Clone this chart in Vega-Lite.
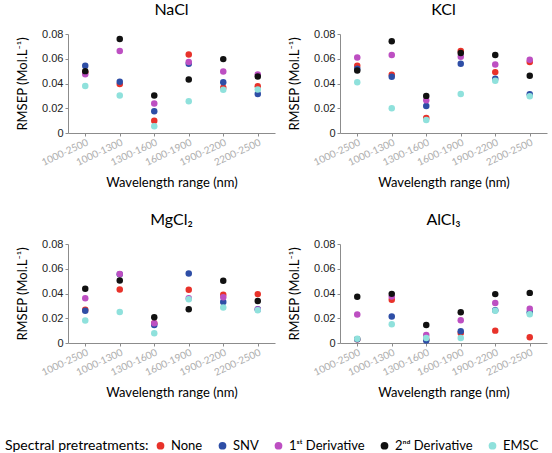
{
  "$schema": "https://vega.github.io/schema/vega-lite/v6.json",
  "padding": {"left": 5, "top": 2, "right": 4, "bottom": 2},
  "datasets": {
    "d": [
      {"salt": "NaCl", "range": "1000-2500", "method": "None", "rmsep": 0.049},
      {"salt": "NaCl", "range": "1000-2500", "method": "SNV", "rmsep": 0.0543},
      {"salt": "NaCl", "range": "1000-2500", "method": "1st Derivative", "rmsep": 0.0475},
      {"salt": "NaCl", "range": "1000-2500", "method": "2nd Derivative", "rmsep": 0.050},
      {"salt": "NaCl", "range": "1000-2500", "method": "EMSC", "rmsep": 0.038},
      {"salt": "NaCl", "range": "1000-1300", "method": "None", "rmsep": 0.0395},
      {"salt": "NaCl", "range": "1000-1300", "method": "SNV", "rmsep": 0.0414},
      {"salt": "NaCl", "range": "1000-1300", "method": "1st Derivative", "rmsep": 0.0662},
      {"salt": "NaCl", "range": "1000-1300", "method": "2nd Derivative", "rmsep": 0.0759},
      {"salt": "NaCl", "range": "1000-1300", "method": "EMSC", "rmsep": 0.0303},
      {"salt": "NaCl", "range": "1300-1600", "method": "None", "rmsep": 0.010},
      {"salt": "NaCl", "range": "1300-1600", "method": "SNV", "rmsep": 0.0176},
      {"salt": "NaCl", "range": "1300-1600", "method": "1st Derivative", "rmsep": 0.0238},
      {"salt": "NaCl", "range": "1300-1600", "method": "2nd Derivative", "rmsep": 0.0303},
      {"salt": "NaCl", "range": "1300-1600", "method": "EMSC", "rmsep": 0.0054},
      {"salt": "NaCl", "range": "1600-1900", "method": "None", "rmsep": 0.0635},
      {"salt": "NaCl", "range": "1600-1900", "method": "SNV", "rmsep": 0.056},
      {"salt": "NaCl", "range": "1600-1900", "method": "1st Derivative", "rmsep": 0.0573},
      {"salt": "NaCl", "range": "1600-1900", "method": "2nd Derivative", "rmsep": 0.0432},
      {"salt": "NaCl", "range": "1600-1900", "method": "EMSC", "rmsep": 0.0257},
      {"salt": "NaCl", "range": "1900-2200", "method": "None", "rmsep": 0.0365},
      {"salt": "NaCl", "range": "1900-2200", "method": "SNV", "rmsep": 0.0411},
      {"salt": "NaCl", "range": "1900-2200", "method": "1st Derivative", "rmsep": 0.0497},
      {"salt": "NaCl", "range": "1900-2200", "method": "2nd Derivative", "rmsep": 0.0597},
      {"salt": "NaCl", "range": "1900-2200", "method": "EMSC", "rmsep": 0.0349},
      {"salt": "NaCl", "range": "2200-2500", "method": "None", "rmsep": 0.0378},
      {"salt": "NaCl", "range": "2200-2500", "method": "SNV", "rmsep": 0.0316},
      {"salt": "NaCl", "range": "2200-2500", "method": "1st Derivative", "rmsep": 0.0473},
      {"salt": "NaCl", "range": "2200-2500", "method": "2nd Derivative", "rmsep": 0.0457},
      {"salt": "NaCl", "range": "2200-2500", "method": "EMSC", "rmsep": 0.0351},

      {"salt": "KCl", "range": "1000-2500", "method": "None", "rmsep": 0.0543},
      {"salt": "KCl", "range": "1000-2500", "method": "SNV", "rmsep": 0.052},
      {"salt": "KCl", "range": "1000-2500", "method": "1st Derivative", "rmsep": 0.0611},
      {"salt": "KCl", "range": "1000-2500", "method": "2nd Derivative", "rmsep": 0.0505},
      {"salt": "KCl", "range": "1000-2500", "method": "EMSC", "rmsep": 0.0411},
      {"salt": "KCl", "range": "1000-1300", "method": "None", "rmsep": 0.047},
      {"salt": "KCl", "range": "1000-1300", "method": "SNV", "rmsep": 0.0454},
      {"salt": "KCl", "range": "1000-1300", "method": "1st Derivative", "rmsep": 0.063},
      {"salt": "KCl", "range": "1000-1300", "method": "2nd Derivative", "rmsep": 0.0741},
      {"salt": "KCl", "range": "1000-1300", "method": "EMSC", "rmsep": 0.020},
      {"salt": "KCl", "range": "1300-1600", "method": "None", "rmsep": 0.0122},
      {"salt": "KCl", "range": "1300-1600", "method": "SNV", "rmsep": 0.0219},
      {"salt": "KCl", "range": "1300-1600", "method": "1st Derivative", "rmsep": 0.0265},
      {"salt": "KCl", "range": "1300-1600", "method": "2nd Derivative", "rmsep": 0.030},
      {"salt": "KCl", "range": "1300-1600", "method": "EMSC", "rmsep": 0.0105},
      {"salt": "KCl", "range": "1600-1900", "method": "None", "rmsep": 0.0662},
      {"salt": "KCl", "range": "1600-1900", "method": "SNV", "rmsep": 0.056},
      {"salt": "KCl", "range": "1600-1900", "method": "1st Derivative", "rmsep": 0.0616},
      {"salt": "KCl", "range": "1600-1900", "method": "2nd Derivative", "rmsep": 0.0646},
      {"salt": "KCl", "range": "1600-1900", "method": "EMSC", "rmsep": 0.0316},
      {"salt": "KCl", "range": "1900-2200", "method": "None", "rmsep": 0.0492},
      {"salt": "KCl", "range": "1900-2200", "method": "SNV", "rmsep": 0.0438},
      {"salt": "KCl", "range": "1900-2200", "method": "1st Derivative", "rmsep": 0.0554},
      {"salt": "KCl", "range": "1900-2200", "method": "2nd Derivative", "rmsep": 0.063},
      {"salt": "KCl", "range": "1900-2200", "method": "EMSC", "rmsep": 0.0422},
      {"salt": "KCl", "range": "2200-2500", "method": "None", "rmsep": 0.0573},
      {"salt": "KCl", "range": "2200-2500", "method": "SNV", "rmsep": 0.0314},
      {"salt": "KCl", "range": "2200-2500", "method": "1st Derivative", "rmsep": 0.0592},
      {"salt": "KCl", "range": "2200-2500", "method": "2nd Derivative", "rmsep": 0.0462},
      {"salt": "KCl", "range": "2200-2500", "method": "EMSC", "rmsep": 0.0297},

      {"salt": "MgCl2", "range": "1000-2500", "method": "None", "rmsep": 0.0268},
      {"salt": "MgCl2", "range": "1000-2500", "method": "SNV", "rmsep": 0.026},
      {"salt": "MgCl2", "range": "1000-2500", "method": "1st Derivative", "rmsep": 0.0362},
      {"salt": "MgCl2", "range": "1000-2500", "method": "2nd Derivative", "rmsep": 0.0438},
      {"salt": "MgCl2", "range": "1000-2500", "method": "EMSC", "rmsep": 0.0181},
      {"salt": "MgCl2", "range": "1000-1300", "method": "None", "rmsep": 0.0432},
      {"salt": "MgCl2", "range": "1000-1300", "method": "SNV", "rmsep": 0.0555},
      {"salt": "MgCl2", "range": "1000-1300", "method": "1st Derivative", "rmsep": 0.0557},
      {"salt": "MgCl2", "range": "1000-1300", "method": "2nd Derivative", "rmsep": 0.0505},
      {"salt": "MgCl2", "range": "1000-1300", "method": "EMSC", "rmsep": 0.0251},
      {"salt": "MgCl2", "range": "1300-1600", "method": "None", "rmsep": 0.016},
      {"salt": "MgCl2", "range": "1300-1600", "method": "SNV", "rmsep": 0.0146},
      {"salt": "MgCl2", "range": "1300-1600", "method": "1st Derivative", "rmsep": 0.016},
      {"salt": "MgCl2", "range": "1300-1600", "method": "2nd Derivative", "rmsep": 0.0208},
      {"salt": "MgCl2", "range": "1300-1600", "method": "EMSC", "rmsep": 0.0078},
      {"salt": "MgCl2", "range": "1600-1900", "method": "None", "rmsep": 0.043},
      {"salt": "MgCl2", "range": "1600-1900", "method": "SNV", "rmsep": 0.0562},
      {"salt": "MgCl2", "range": "1600-1900", "method": "1st Derivative", "rmsep": 0.0362},
      {"salt": "MgCl2", "range": "1600-1900", "method": "2nd Derivative", "rmsep": 0.0273},
      {"salt": "MgCl2", "range": "1600-1900", "method": "EMSC", "rmsep": 0.0354},
      {"salt": "MgCl2", "range": "1900-2200", "method": "None", "rmsep": 0.0389},
      {"salt": "MgCl2", "range": "1900-2200", "method": "SNV", "rmsep": 0.0332},
      {"salt": "MgCl2", "range": "1900-2200", "method": "1st Derivative", "rmsep": 0.037},
      {"salt": "MgCl2", "range": "1900-2200", "method": "2nd Derivative", "rmsep": 0.0503},
      {"salt": "MgCl2", "range": "1900-2200", "method": "EMSC", "rmsep": 0.0286},
      {"salt": "MgCl2", "range": "2200-2500", "method": "None", "rmsep": 0.0395},
      {"salt": "MgCl2", "range": "2200-2500", "method": "SNV", "rmsep": 0.0273},
      {"salt": "MgCl2", "range": "2200-2500", "method": "1st Derivative", "rmsep": 0.027},
      {"salt": "MgCl2", "range": "2200-2500", "method": "2nd Derivative", "rmsep": 0.034},
      {"salt": "MgCl2", "range": "2200-2500", "method": "EMSC", "rmsep": 0.0265},

      {"salt": "AlCl3", "range": "1000-2500", "method": "None", "rmsep": 0.003},
      {"salt": "AlCl3", "range": "1000-2500", "method": "SNV", "rmsep": 0.003},
      {"salt": "AlCl3", "range": "1000-2500", "method": "1st Derivative", "rmsep": 0.023},
      {"salt": "AlCl3", "range": "1000-2500", "method": "2nd Derivative", "rmsep": 0.0373},
      {"salt": "AlCl3", "range": "1000-2500", "method": "EMSC", "rmsep": 0.0035},
      {"salt": "AlCl3", "range": "1000-1300", "method": "None", "rmsep": 0.0349},
      {"salt": "AlCl3", "range": "1000-1300", "method": "SNV", "rmsep": 0.0214},
      {"salt": "AlCl3", "range": "1000-1300", "method": "1st Derivative", "rmsep": 0.0375},
      {"salt": "AlCl3", "range": "1000-1300", "method": "2nd Derivative", "rmsep": 0.0397},
      {"salt": "AlCl3", "range": "1000-1300", "method": "EMSC", "rmsep": 0.0151},
      {"salt": "AlCl3", "range": "1300-1600", "method": "None", "rmsep": 0.003},
      {"salt": "AlCl3", "range": "1300-1600", "method": "SNV", "rmsep": 0.002},
      {"salt": "AlCl3", "range": "1300-1600", "method": "1st Derivative", "rmsep": 0.0065},
      {"salt": "AlCl3", "range": "1300-1600", "method": "2nd Derivative", "rmsep": 0.0146},
      {"salt": "AlCl3", "range": "1300-1600", "method": "EMSC", "rmsep": 0.004},
      {"salt": "AlCl3", "range": "1600-1900", "method": "None", "rmsep": 0.0081},
      {"salt": "AlCl3", "range": "1600-1900", "method": "SNV", "rmsep": 0.0095},
      {"salt": "AlCl3", "range": "1600-1900", "method": "1st Derivative", "rmsep": 0.0184},
      {"salt": "AlCl3", "range": "1600-1900", "method": "2nd Derivative", "rmsep": 0.0249},
      {"salt": "AlCl3", "range": "1600-1900", "method": "EMSC", "rmsep": 0.004},
      {"salt": "AlCl3", "range": "1900-2200", "method": "None", "rmsep": 0.010},
      {"salt": "AlCl3", "range": "1900-2200", "method": "SNV", "rmsep": 0.0265},
      {"salt": "AlCl3", "range": "1900-2200", "method": "1st Derivative", "rmsep": 0.0324},
      {"salt": "AlCl3", "range": "1900-2200", "method": "2nd Derivative", "rmsep": 0.0395},
      {"salt": "AlCl3", "range": "1900-2200", "method": "EMSC", "rmsep": 0.026},
      {"salt": "AlCl3", "range": "2200-2500", "method": "None", "rmsep": 0.0046},
      {"salt": "AlCl3", "range": "2200-2500", "method": "SNV", "rmsep": 0.0249},
      {"salt": "AlCl3", "range": "2200-2500", "method": "1st Derivative", "rmsep": 0.0276},
      {"salt": "AlCl3", "range": "2200-2500", "method": "2nd Derivative", "rmsep": 0.0405},
      {"salt": "AlCl3", "range": "2200-2500", "method": "EMSC", "rmsep": 0.0232}
    ]
  },
  "data": {"name": "d"},
  "spacing": 22,
  "vconcat": [
    {
      "spacing": 13,
      "hconcat": [
        {
          "title": "NaCl",
          "width": 207, "height": 99,
          "transform": [{"filter": "datum.salt === 'NaCl'"}],
          "mark": {"type": "point", "filled": true, "size": 42, "opacity": 1},
          "encoding": {
            "x": {"field": "range", "type": "nominal", "scale": {"type": "point", "padding": 0.5, "domain": ["1000-2500", "1000-1300", "1300-1600", "1600-1900", "1900-2200", "2200-2500"]}, "axis": {"title": "Wavelength range (nm)"}},
            "y": {"field": "rmsep", "type": "quantitative", "scale": {"domain": [0, 0.08]}, "axis": {"values": [0, 0.02, 0.04, 0.06, 0.08], "format": "~g", "title": "RMSEP (Mol.L⁻¹)"}},
            "color": {"field": "method", "type": "nominal", "scale": {"domain": ["None", "SNV", "1st Derivative", "2nd Derivative", "EMSC"], "range": ["#e8322a", "#2e4ea6", "#bd4fc2", "#111111", "#8fe1dc"]},
              "legend": {"title": "Spectral pretreatments:", "orient": "none", "legendX": -63, "legendY": 405, "direction": "horizontal", "titleOrient": "left", "labelExpr": "datum.label === '1st Derivative' ? '1ˢᵗ Derivative' : datum.label === '2nd Derivative' ? '2ⁿᵈ Derivative' : datum.label"}}
          }
        },
        {
          "title": "KCl",
          "width": 207, "height": 99,
          "transform": [{"filter": "datum.salt === 'KCl'"}],
          "mark": {"type": "point", "filled": true, "size": 42, "opacity": 1},
          "encoding": {
            "x": {"field": "range", "type": "nominal", "scale": {"type": "point", "padding": 0.5, "domain": ["1000-2500", "1000-1300", "1300-1600", "1600-1900", "1900-2200", "2200-2500"]}, "axis": {"title": "Wavelength range (nm)"}},
            "y": {"field": "rmsep", "type": "quantitative", "scale": {"domain": [0, 0.08]}, "axis": {"values": [0, 0.02, 0.04, 0.06, 0.08], "format": "~g", "title": "RMSEP (Mol.L⁻¹)"}},
            "color": {"field": "method", "type": "nominal", "scale": {"domain": ["None", "SNV", "1st Derivative", "2nd Derivative", "EMSC"], "range": ["#e8322a", "#2e4ea6", "#bd4fc2", "#111111", "#8fe1dc"]},
              "legend": {"title": "Spectral pretreatments:", "orient": "none", "legendX": -63, "legendY": 405, "direction": "horizontal", "titleOrient": "left", "labelExpr": "datum.label === '1st Derivative' ? '1ˢᵗ Derivative' : datum.label === '2nd Derivative' ? '2ⁿᵈ Derivative' : datum.label"}}
          }
        }
      ]
    },
    {
      "spacing": 13,
      "hconcat": [
        {
          "title": "MgCl₂",
          "width": 207, "height": 99,
          "transform": [{"filter": "datum.salt === 'MgCl2'"}],
          "mark": {"type": "point", "filled": true, "size": 42, "opacity": 1},
          "encoding": {
            "x": {"field": "range", "type": "nominal", "scale": {"type": "point", "padding": 0.5, "domain": ["1000-2500", "1000-1300", "1300-1600", "1600-1900", "1900-2200", "2200-2500"]}, "axis": {"title": "Wavelength range (nm)"}},
            "y": {"field": "rmsep", "type": "quantitative", "scale": {"domain": [0, 0.08]}, "axis": {"values": [0, 0.02, 0.04, 0.06, 0.08], "format": "~g", "title": "RMSEP (Mol.L⁻¹)"}},
            "color": {"field": "method", "type": "nominal", "scale": {"domain": ["None", "SNV", "1st Derivative", "2nd Derivative", "EMSC"], "range": ["#e8322a", "#2e4ea6", "#bd4fc2", "#111111", "#8fe1dc"]},
              "legend": {"title": "Spectral pretreatments:", "orient": "none", "legendX": -63, "legendY": 405, "direction": "horizontal", "titleOrient": "left", "labelExpr": "datum.label === '1st Derivative' ? '1ˢᵗ Derivative' : datum.label === '2nd Derivative' ? '2ⁿᵈ Derivative' : datum.label"}}
          }
        },
        {
          "title": "AlCl₃",
          "width": 207, "height": 99,
          "transform": [{"filter": "datum.salt === 'AlCl3'"}],
          "mark": {"type": "point", "filled": true, "size": 42, "opacity": 1},
          "encoding": {
            "x": {"field": "range", "type": "nominal", "scale": {"type": "point", "padding": 0.5, "domain": ["1000-2500", "1000-1300", "1300-1600", "1600-1900", "1900-2200", "2200-2500"]}, "axis": {"title": "Wavelength range (nm)"}},
            "y": {"field": "rmsep", "type": "quantitative", "scale": {"domain": [0, 0.08]}, "axis": {"values": [0, 0.02, 0.04, 0.06, 0.08], "format": "~g", "title": "RMSEP (Mol.L⁻¹)"}},
            "color": {"field": "method", "type": "nominal", "scale": {"domain": ["None", "SNV", "1st Derivative", "2nd Derivative", "EMSC"], "range": ["#e8322a", "#2e4ea6", "#bd4fc2", "#111111", "#8fe1dc"]},
              "legend": {"title": "Spectral pretreatments:", "orient": "none", "legendX": -63, "legendY": 405, "direction": "horizontal", "titleOrient": "left", "labelExpr": "datum.label === '1st Derivative' ? '1ˢᵗ Derivative' : datum.label === '2nd Derivative' ? '2ⁿᵈ Derivative' : datum.label"}}
          }
        }
      ]
    }
  ],
  "resolve": {"scale": {"x": "independent", "y": "independent"}},
  "config": {
    "font": "Lato",
    "view": {"stroke": null},
    "title": {"fontSize": 16, "fontWeight": "normal", "color": "#000000", "font": "Lato", "offset": 10},
    "axis": {
      "grid": false,
      "domainColor": "#8c8c8c",
      "tickColor": "#8c8c8c",
      "tickSize": 3,
      "titleFontWeight": "normal",
      "titleColor": "#000000",
      "titleFontSize": 13,
      "titleFont": "Lato"
    },
    "axisX": {"labelAngle": -25, "labelAlign": "right", "labelBaseline": "top", "labelColor": "#adadad", "labelFontSize": 10, "labelFont": "Lato", "labelPadding": 1, "titlePadding": 9},
    "axisY": {"labelColor": "#222222", "labelFontSize": 11, "labelFont": "Liberation Sans", "titlePadding": 12},
    "legend": {
      "titleFontSize": 14,
      "titleFontWeight": "normal",
      "titleColor": "#000000",
      "titleFont": "Lato",
      "titleBaseline": "middle",
      "titlePadding": 5,
      "labelFontSize": 13,
      "labelFont": "Lato",
      "labelColor": "#000000",
      "labelOffset": 4,
      "symbolSize": 60,
      "symbolType": "circle",
      "columnPadding": 13
    }
  }
}
